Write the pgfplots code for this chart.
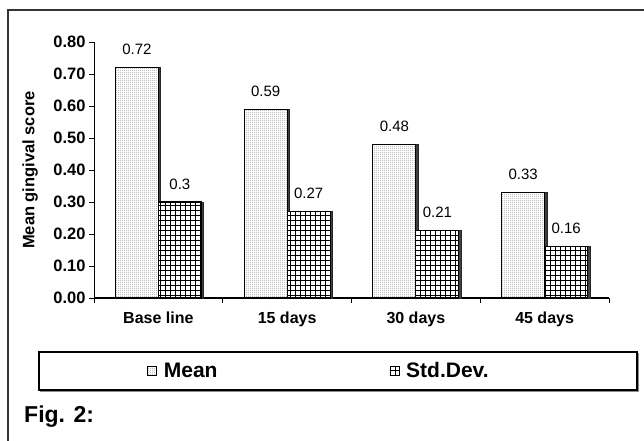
\documentclass[border=0pt]{standalone}
\usepackage{fontspec}
\setmainfont{Liberation Sans}
\usepackage{pgfplots}
\pgfplotsset{compat=1.18}
\usetikzlibrary{patterns}

\pgfdeclarepatternformonly{finedots}{\pgfpointorigin}{\pgfqpoint{2pt}{2pt}}{\pgfqpoint{2pt}{2pt}}{\pgfpathcircle{\pgfqpoint{1pt}{1pt}}{0.5pt}\pgfusepath{fill}}
\pgfdeclarepatternformonly{widegrid}{\pgfqpoint{-0.5pt}{-0.5pt}}{\pgfqpoint{5pt}{5pt}}{\pgfqpoint{5pt}{5pt}}{\pgfsetlinewidth{0.8pt}\pgfpathmoveto{\pgfqpoint{0pt}{0pt}}\pgfpathlineto{\pgfqpoint{0pt}{5pt}}\pgfpathmoveto{\pgfqpoint{0pt}{0pt}}\pgfpathlineto{\pgfqpoint{5pt}{0pt}}\pgfusepath{stroke}}

\begin{document}
\begin{tikzpicture}[x=1pt,y=-1pt]
\path[use as bounding box] (0,0) rectangle (644,440);
% outer frame
\draw[line width=2.2pt, black!80] (8,441) -- (8,10) -- (645,10);
% legend frame
\draw[line width=1.5pt, black!45] (41,354) rectangle (638.5,391.5);
\draw[line width=1.2pt, black, fill=white] (39,352) rectangle (637,390);
\node[anchor=base west, font=\bfseries\fontsize{23}{23}\selectfont, inner sep=0pt] at (24,422) {Fig. 2:};

\begin{axis}[
  at={(94pt,-298pt)}, anchor=south west,
  scale only axis, width=515pt, height=256pt,
  xmin=-0.5, xmax=3.5, ymin=0, ymax=0.8,
  ybar=0pt, bar width=43pt,
  axis x line*=bottom, axis y line*=left,
  axis line style={-},
  x axis line style={line width=1.6pt},
  y axis line style={line width=0.6pt},
  xtick={0,1,2,3},
  xticklabels={Base line,15 days,30 days,45 days},
  major x tick style={draw=none},
  minor xtick={-0.5,0.5,1.5,2.5,3.5},
  minor x tick style={line width=0.6pt, black},
  minor tick length=5pt,
  tick align=outside,
  ytick={0,0.1,...,0.8},
  major y tick style={line width=0.6pt, black},
  major tick length=5pt,
  xticklabel style={font=\bfseries\fontsize{16}{16}\selectfont, anchor=base, yshift=-20pt},
  yticklabel={\bfseries\fontsize{16.5}{16.5}\selectfont\pgfmathprintnumber[fixed,fixed zerofill,precision=2,assume math mode=true]{\tick}},
  yticklabel style={anchor=east},
  /pgf/number format/assume math mode=true,
  ylabel={\bfseries Mean gingival score},
  ylabel style={font=\fontsize{16.5}{16.5}\selectfont, at={(axis description cs:-0.124,0.5)}, anchor=center},
  legend columns=2,
  legend style={draw=none, fill=none, font=\bfseries\fontsize{21}{21}\selectfont,
    at={(axis description cs:0.097,-0.285)}, anchor=west,
    /tikz/every odd column/.append style={column sep=5pt},
    /tikz/every even column/.append style={column sep=170pt}},
  legend image code/.code={\draw[#1, line width=0.7pt] (0pt,-4.5pt) rectangle (9pt,4.5pt);},
]
% shadows for 3-D look
\addplot[forget plot, draw=black!85, fill=black!75, line width=0.8pt, bar shift=-19pt]
  coordinates {(0,0.72) (1,0.59) (2,0.48) (3,0.33)};
\addplot[forget plot, draw=black!85, fill=black!75, line width=0.8pt, bar shift=24pt]
  coordinates {(0,0.30) (1,0.27) (2,0.21) (3,0.16)};
\addplot[draw=black, line width=1.2pt, fill=white, postaction={pattern=finedots, pattern color=black!70}, bar shift=-21.5pt,
  nodes near coords, every node near coord/.append style={font=\fontsize{15}{15}\selectfont, anchor=center, yshift=18pt, black}]
  coordinates {(0,0.72) (1,0.59) (2,0.48) (3,0.33)};
\addplot[draw=black, line width=1.2pt, fill=white, postaction={pattern=widegrid, pattern color=black}, bar shift=21.5pt,
  nodes near coords, every node near coord/.append style={font=\fontsize{15}{15}\selectfont, anchor=center, yshift=18pt, black}]
  coordinates {(0,0.30) (1,0.27) (2,0.21) (3,0.16)};
\legend{Mean, Std.Dev.}
\end{axis}
\end{tikzpicture}
\end{document}
